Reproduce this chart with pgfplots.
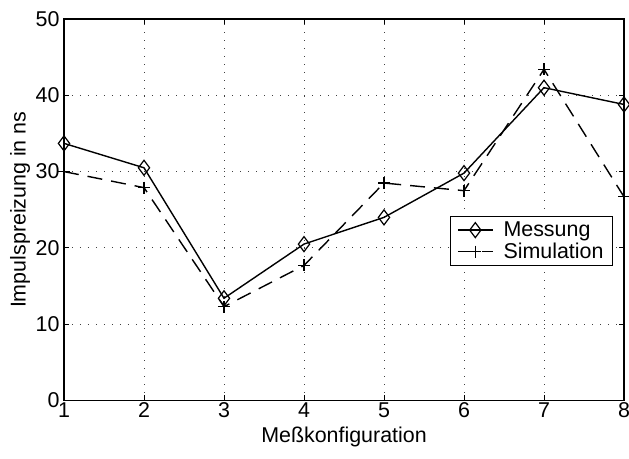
\documentclass[border=0pt]{standalone}
\usepackage{fontspec}
\setmainfont{Liberation Sans}
\usepackage{pgfplots}
\pgfplotsset{compat=1.18}

\begin{document}
\begin{tikzpicture}[x=1bp,y=1bp]
\begin{axis}[
  at={(0,0)}, anchor=south west,
  scale only axis,
  width=560bp, height=381.5bp,
  xmin=1, xmax=8, ymin=0, ymax=50,
  xtick={1,...,8}, ytick={0,10,...,50},
  tick align=inside,
  major tick length=5.5bp,
  tick style={black, line width=0.9bp},
  axis line style={black, line width=1.1bp},
  grid=major,
  major grid style={black!75, line width=0.9bp, dash pattern=on 0.9bp off 7.1bp},
  font=\fontsize{21.5}{25}\selectfont,
  /pgf/number format/assume math mode=true,
  xticklabel style={yshift=1bp},
  yticklabel style={xshift=-1bp},
  xlabel={Meßkonfiguration},
  ylabel={Impulspreizung in ns},
  xlabel style={at={(axis description cs:0.5,-0.0957)}, anchor=center},
  ylabel style={at={(axis description cs:-0.0786,0.5)}, anchor=center},
  legend cell align=left,
  legend style={at={(0.9804,0.4836)}, anchor=north east,
    draw=black, line width=1bp, inner xsep=7bp, inner ysep=3.5bp, row sep=1bp,
    font=\fontsize{21.5}{25}\selectfont,
    /tikz/every odd column/.append style={column sep=8bp}},
  legend image code/.code={%
    \draw[mark repeat=2,mark phase=2]
      plot coordinates {(0bp,0bp) (17.5bp,0bp) (35bp,0bp)};},
]
% Messung
\addplot[black, line width=1.4bp, mark=diamond, mark size=7.5bp,
  mark options={solid, fill=white, line width=1.2bp}]
  coordinates {(1,33.7) (2,30.5) (3,13.4) (4,20.5) (5,24.0) (6,29.8) (7,41.0) (8,38.8)};
\addlegendentry{Messung}
% Simulation
\addplot[black, line width=1.4bp, dash pattern=on 15bp off 9bp,
  mark=+, mark size=6bp, mark options={solid, line width=1.3bp}]
  coordinates {(1,30.0) (2,27.9) (3,12.3) (4,17.7) (5,28.5) (6,27.5) (7,43.4) (8,26.7)};
\addlegendentry{Simulation}
\end{axis}
\pgfresetboundingbox
\useasboundingbox (-64bp,-58.5bp) rectangle (565bp,400.5bp);
\end{tikzpicture}
\end{document}
